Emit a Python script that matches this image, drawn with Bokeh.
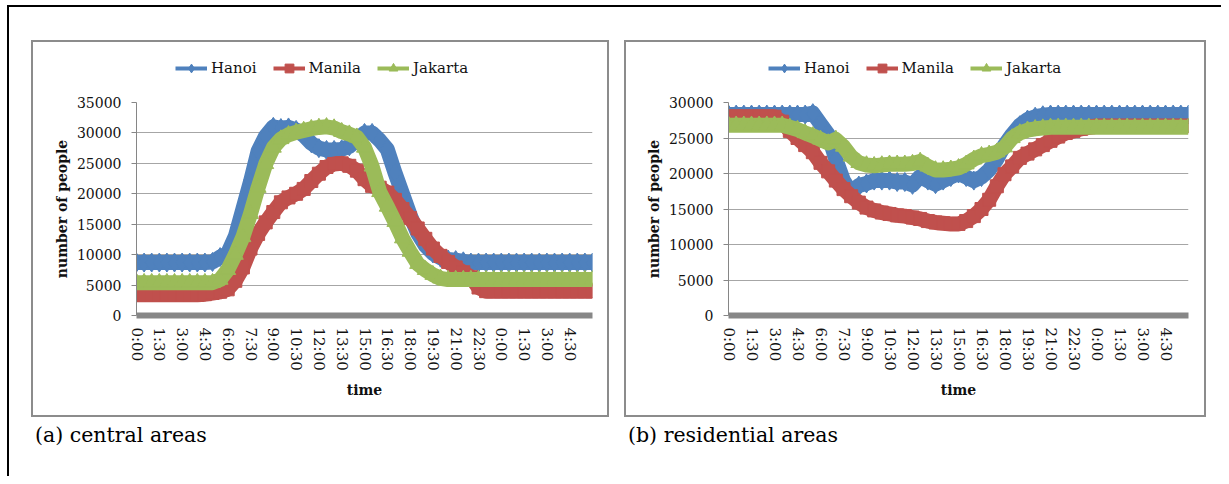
from bokeh.plotting import figure
from bokeh.models import Range1d, FixedTicker, Legend, LegendItem, Div, Spacer
from bokeh.layouts import column, row
from bokeh.embed import file_html
from bokeh.resources import INLINE

# time axis: half-hour samples from 0:00 to 6:00 of the next day (hours)
hours = [i * 0.5 for i in range(61)]
tick_hours = [i * 1.5 for i in range(20)]
tick_labels = ["0:00", "1:30", "3:00", "4:30", "6:00", "7:30", "9:00", "10:30",
               "12:00", "13:30", "15:00", "16:30", "18:00", "19:30", "21:00",
               "22:30", "0:00", "1:30", "3:00", "4:30"]

cities = ["Hanoi", "Manila", "Jakarta"]

# (a) central areas
central_hanoi = [8700, 8700, 8700, 8700, 8700, 8700, 8700, 8700, 8700, 8700,
                 8800, 9600, 10200, 13000, 17500, 22000, 27000, 29500, 31000, 30800,
                 30900, 30500, 29600, 28300, 27500, 27200, 27200, 27300, 27800, 28800,
                 30000, 30000, 28800, 27300, 23500, 20000, 16500, 13500, 11500, 10200,
                 9500, 9200, 9100, 8900, 8700, 8700, 8700, 8700, 8700, 8700,
                 8700, 8700, 8700, 8700, 8700, 8700, 8700, 8700, 8700, 8700, 8700]
central_manila = [3400, 3400, 3400, 3400, 3400, 3400, 3400, 3400, 3400, 3500,
                  3700, 3900, 4300, 5700, 7900, 11000, 13400, 15300, 17000, 18600,
                  19400, 20000, 20800, 22100, 23300, 24400, 24900, 25000, 24600, 23800,
                  22400, 21300, 21000, 20200, 19000, 17500, 16000, 14300, 12600, 11000,
                  9800, 8800, 7900, 7100, 6300, 4600, 4000, 4000, 4000, 4000,
                  4000, 4000, 4000, 4000, 4000, 4000, 4000, 4000, 4000, 4000, 4000]
central_jakarta = [5400, 5400, 5400, 5400, 5400, 5400, 5400, 5400, 5400, 5400,
                   5400, 5900, 7500, 10000, 12900, 16700, 21000, 24900, 27600, 29000,
                   29700, 30100, 30400, 30700, 30900, 31000, 30800, 30200, 29800, 29300,
                   27600, 24500, 20300, 17900, 15400, 12700, 10500, 8500, 7500, 6700,
                   6100, 5900, 5900, 5900, 5900, 5900, 5900, 5900, 5900, 5900,
                   5900, 5900, 5900, 5900, 5900, 5900, 5900, 5900, 5900, 5900, 5900]

# (b) residential areas
resid_hanoi = [28300, 28300, 28300, 28300, 28300, 28300, 28300, 28300, 28300, 28300,
               28300, 28500, 27000, 25500, 22000, 19000, 17300, 18300, 18600, 19000,
               19000, 19000, 18800, 18800, 18400, 19600, 19000, 18500, 19000, 19500,
               20000, 19500, 19000, 19500, 20500, 22000, 24000, 25500, 26800, 27600,
               28000, 28200, 28300, 28300, 28300, 28300, 28300, 28300, 28300, 28300,
               28300, 28300, 28300, 28300, 28300, 28300, 28300, 28300, 28300, 28300, 28300]
resid_manila = [28000, 28000, 28000, 28000, 28000, 28000, 28000, 27300, 26000, 25000,
                24000, 23000, 21500, 20300, 19000, 17800, 16800, 15900, 15200, 14800,
                14500, 14300, 14100, 14000, 13800, 13600, 13300, 13100, 13000, 12900,
                12900, 13300, 14000, 15000, 16300, 18200, 19900, 21000, 22200, 22800,
                23400, 24000, 24600, 25200, 25700, 26000, 26300, 26500, 26700, 26700,
                26700, 26700, 26700, 26700, 26700, 26700, 26700, 26700, 26700, 26700, 26700]
resid_jakarta = [26800, 26800, 26800, 26800, 26800, 26800, 26800, 26800, 26500, 26200,
                 25700, 25300, 24800, 24300, 24800, 23800, 22400, 21500, 21200, 21100,
                 21200, 21300, 21300, 21300, 21400, 21700, 21000, 20500, 20500, 20600,
                 20800, 21300, 22000, 22500, 22700, 23000, 23700, 25000, 25700, 26100,
                 26300, 26400, 26500, 26500, 26500, 26500, 26500, 26500, 26500, 26500,
                 26500, 26500, 26500, 26500, 26500, 26500, 26500, 26500, 26500, 26500, 26500]

central_ticks = [0, 5000, 10000, 15000, 20000, 25000, 30000, 35000]
resid_ticks = [0, 5000, 10000, 15000, 20000, 25000, 30000]

FONT = "DejaVu Serif"
COLORS = ["#4F81BD", "#C0504D", "#9BBB59"]
MARKERS = [("diamond", 19), ("square", 13), ("triangle", 16)]
LEG_MARKERS = [("diamond", 11), ("square", 8), ("triangle", 9)]
TEXT_COLOR = "#111111"
LEG_H = 50


def make_panel(series, yticks, width, frame_w, left, leg_x):
    # legend strip on top of the panel (its frame is aligned with the chart's frame)
    lf = figure(width=width, height=LEG_H, output_backend="svg", toolbar_location=None,
                x_axis_type=None, y_axis_type=None, title=None,
                x_range=Range1d(-2, -1), y_range=Range1d(-2, -1),
                min_border_left=0, min_border_right=0, min_border_top=0, min_border_bottom=0)
    lf.outline_line_color = None
    lf.background_fill_color = "white"
    lf.border_fill_color = "white"
    lf.grid.visible = False

    # chart
    p = figure(width=width, height=373 - LEG_H, output_backend="svg", toolbar_location=None,
               title=None, x_range=Range1d(0, 30), y_range=Range1d(yticks[0], yticks[-1]),
               min_border_left=left, min_border_right=width - left - frame_w,
               min_border_top=10, min_border_bottom=100)
    p.outline_line_color = None
    p.background_fill_color = "white"
    p.border_fill_color = "white"

    xa = p.xaxis[0]
    xa.ticker = FixedTicker(ticks=tick_hours)
    xa.major_label_overrides = {t: lab for t, lab in zip(tick_hours, tick_labels)}
    xa.major_label_orientation = "vertical"
    xa.axis_line_color = "#878787"
    xa.axis_line_width = 6
    xa.major_tick_line_color = None
    xa.minor_tick_line_color = None
    xa.major_tick_out = 0
    xa.major_tick_in = 0
    xa.major_label_standoff = 12
    xa.major_label_text_font = FONT
    xa.major_label_text_font_size = "15px"
    xa.major_label_text_color = TEXT_COLOR
    xa.axis_label = "time"
    xa.axis_label_text_font = FONT
    xa.axis_label_text_font_size = "14px"
    xa.axis_label_text_font_style = "bold"
    xa.axis_label_text_color = TEXT_COLOR
    xa.axis_label_standoff = 8

    ya = p.yaxis[0]
    ya.ticker = FixedTicker(ticks=yticks)
    ya.axis_line_color = "#868686"
    ya.major_tick_line_color = "#868686"
    ya.minor_tick_line_color = None
    ya.major_tick_out = 5
    ya.major_tick_in = 0
    ya.major_label_standoff = 10
    ya.major_label_text_font = FONT
    ya.major_label_text_font_size = "14px"
    ya.major_label_text_color = TEXT_COLOR
    ya.axis_label = "number of people"
    ya.axis_label_text_font = FONT
    ya.axis_label_text_font_size = "14px"
    ya.axis_label_text_font_style = "bold"
    ya.axis_label_text_color = TEXT_COLOR
    ya.axis_label_standoff = 4

    p.xgrid.grid_line_color = None
    p.ygrid.grid_line_color = "#a6a6a6"
    p.ygrid.grid_line_width = 1

    items = []
    for name, vals, color, (mk, sz), (lmk, lsz) in zip(cities, series, COLORS, MARKERS, LEG_MARKERS):
        p.line(hours, vals, line_width=15, line_color=color, line_join="round")
        p.scatter(hours, vals, marker=mk, size=sz, fill_color=color, line_color=color)
        # legend proxies: same series, drawn in the legend strip (outside its ranges)
        ll = lf.line(hours, vals, line_width=4, line_color=color)
        ls = lf.scatter(hours, vals, marker=lmk, size=lsz, fill_color=color, line_color=color)
        items.append(LegendItem(label=name, renderers=[ll, ls]))

    legend = Legend(items=items, orientation="horizontal", location=(leg_x, 13),
                    glyph_width=32, glyph_height=22, label_height=22, label_standoff=4,
                    spacing=16, padding=0, margin=0, border_line_color=None,
                    background_fill_alpha=0, label_text_font=FONT,
                    label_text_font_size="15px", label_text_color=TEXT_COLOR)
    lf.add_layout(legend, "center")

    return column(lf, p, width=width, height=373,
                  styles={"outline": "2px solid #8c8c8c"})


panel_a = make_panel([central_hanoi, central_manila, central_jakarta], central_ticks,
                     574, 456, 103, 39)
panel_b = make_panel([resid_hanoi, resid_manila, resid_jakarta], resid_ticks,
                     578, 460, 102, 40)

cap_style = {"font-family": FONT, "font-size": "20.5px", "line-height": "20px",
             "color": "#000000"}
cap_a = Div(text="(a) central areas", width=583, height=24, styles=cap_style)
cap_b = Div(text="(b) residential areas", width=300, height=24, styles=cap_style)

fig_row = row(Spacer(width=26, height=373), panel_a, Spacer(width=19, height=373), panel_b)
cap_row = row(Spacer(width=23, height=24), cap_a, cap_b)

root = column(Spacer(width=1200, height=37), fig_row, Spacer(width=1200, height=5), cap_row,
              width=1214, height=471,
              styles={"box-shadow": "inset 2px 2px 0 0 #000000",
                      "margin-top": "5px", "margin-left": "7px"})

open("out.html", "w").write(file_html(root, INLINE))
